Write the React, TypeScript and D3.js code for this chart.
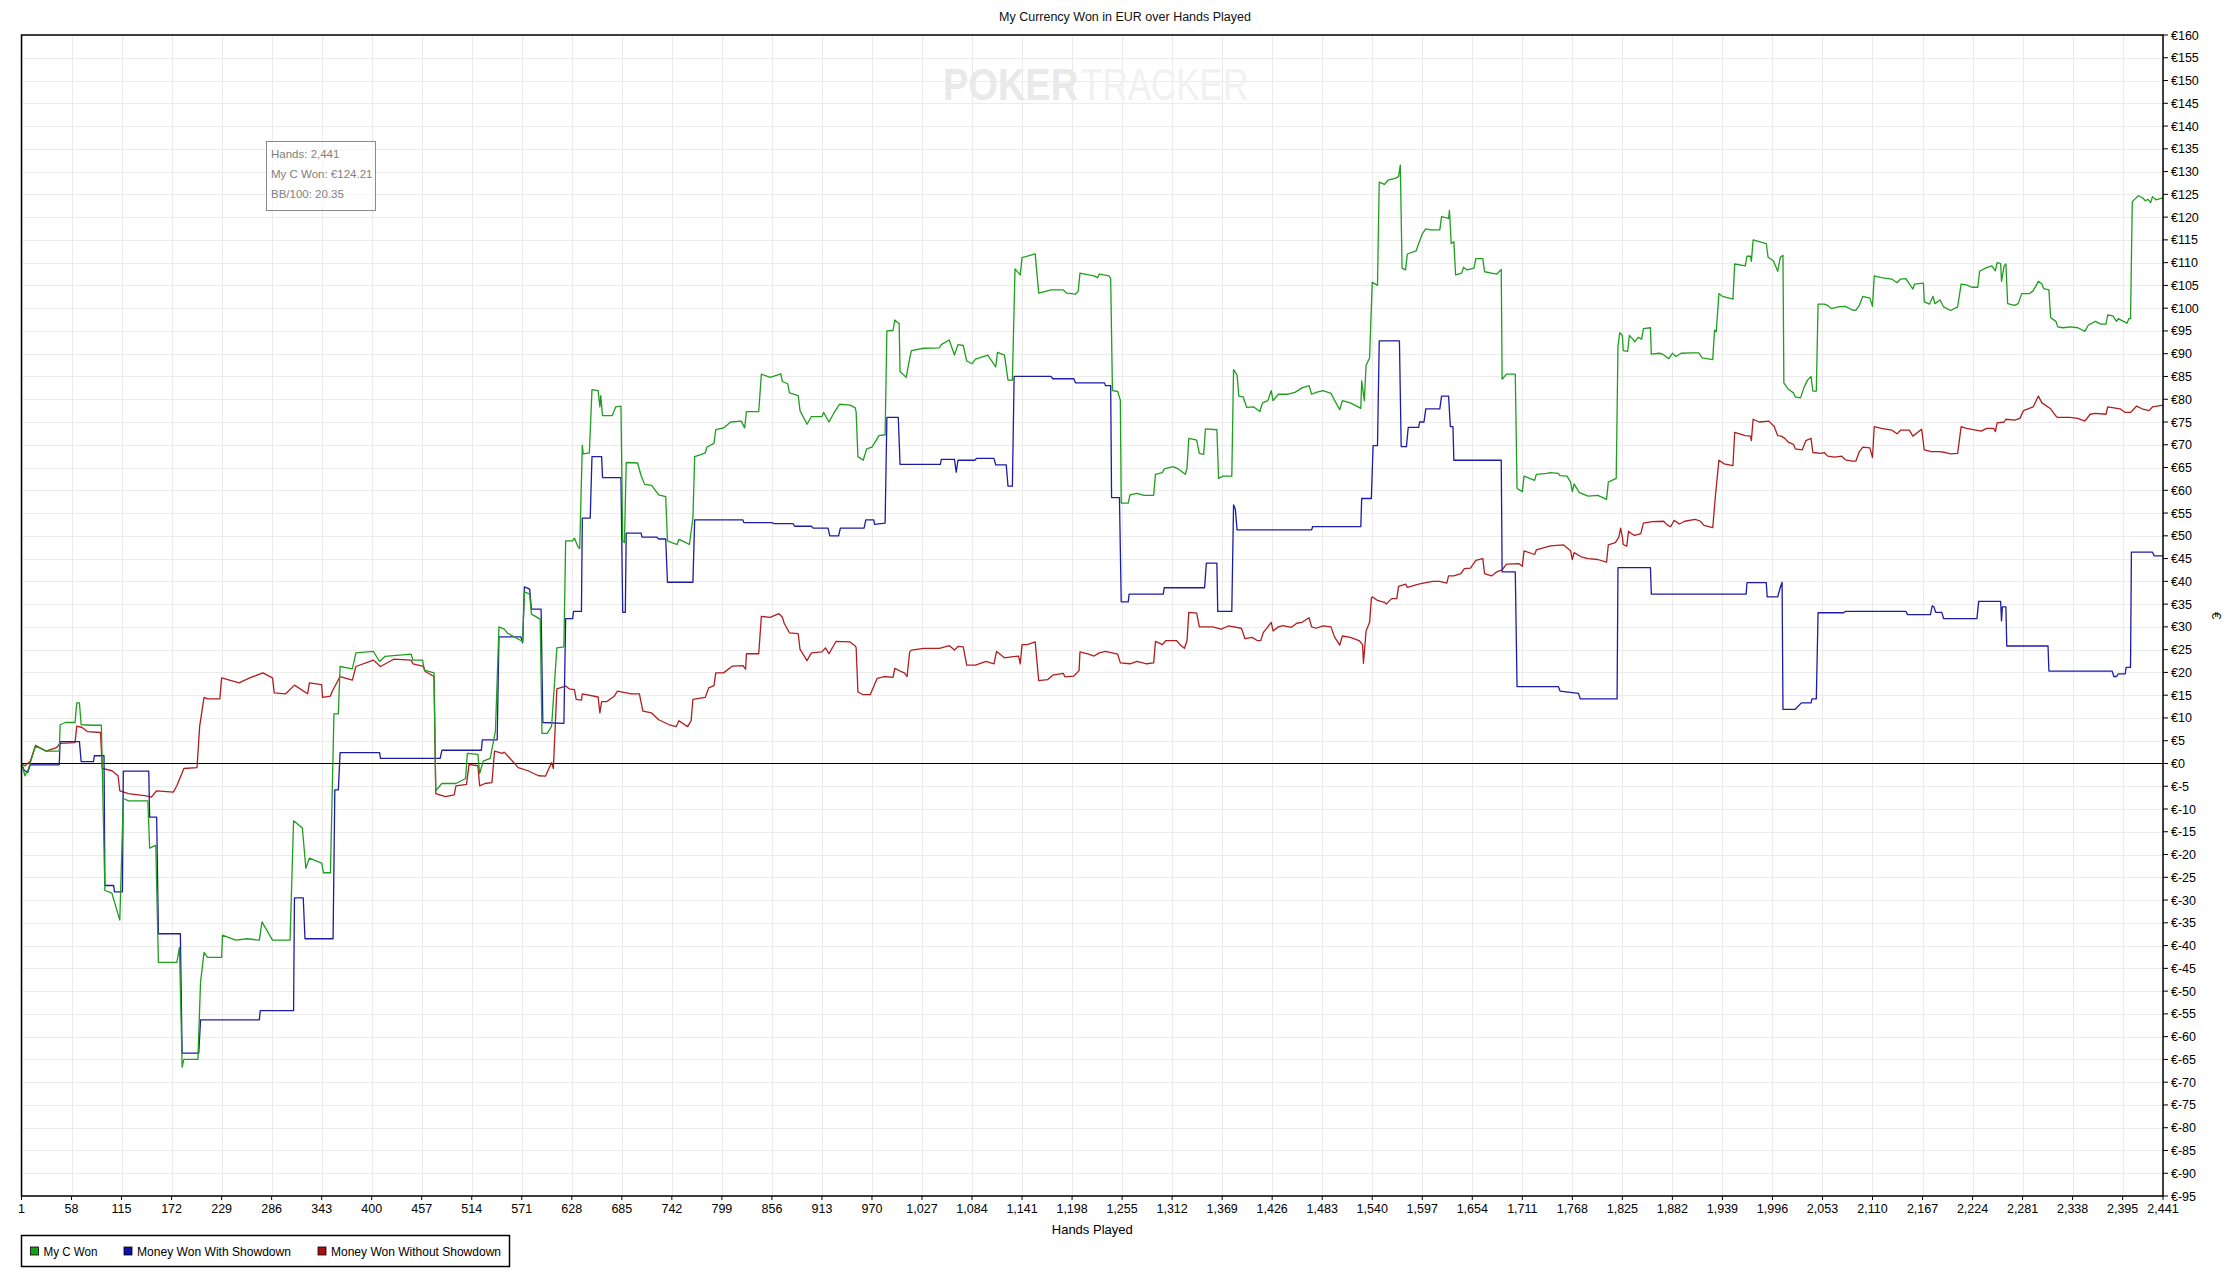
import React from 'react';
import * as d3 from 'd3';

// hand number / running total in EUR
const myCWon: [number, number][] = [
  [1,0],[5,-2.7],[9,-1.1],[17,3.8],[29,2.7],[44,2.7],[45,8.5],[51,9],[62,9],[64,13.3],[67,13.3],[69,8.5],[83,8.4],[92,8.4],
  [96,-27.9],[104,-28.5],[113,-34.4],[117,-7.7],[123,-8.2],[145,-8.2],[147,-18.6],[154,-18],[157,-43.7],[178,-43.7],[181,-40.4],
  [184,-66.7],[186,-65],[202,-65],[205,-48],[209,-41.5],[213,-42.6],[229,-42.6],[230,-37.7],[245,-38.8],[258,-38.5],[272,-38.8],
  [275,-34.8],[287,-38.8],[307,-38.8],[311,-12.6],[321,-14.2],[325,-23],[329,-20.8],[343,-21.9],[345,-24],[353,-24],[357,10.9],
  [362,10.9],[364,21.3],[378,20.8],[382,24.3],[402,24.6],[409,22.4],[415,23.5],[445,24],[447,22.7],[458,22.7],[460,20.5],
  [471,19.9],[473,-6],[480,-4.4],[496,-4.4],[507,-3.3],[509,2.2],[521,2],[523,-2.2],[527,0.5],[535,1.1],[541,7.1],[545,30],
  [551,29.5],[555,28.6],[572,26.8],[574,37.7],[580,37.2],[582,32.8],[592,31.7],[594,6.6],[600,6.6],[605,8.2],[611,25.4],
  [619,25.6],[621,48.9],[629,48.9],[631,49.5],[635,47.6],[637,47.2],[640,69.9],[641,68],[648,68.2],[651,82.1],[658,81.9],
  [660,78.3],[661,80.8],[663,76.4],[674,76.4],[678,78.3],[684,78.5],[686,48.9],[688,48.5],[690,66.1],[703,66],[707,63.2],
  [711,61.3],[719,61.1],[727,59],[735,58.6],[737,48.9],[745,48.3],[748,48.1],[750,49.2],[758,48.5],[762,48.1],[766,53.9],
  [768,67.4],[774,67.8],[780,68.2],[782,69.5],[790,70.3],[792,73.3],[801,73.7],[809,75],[821,75.2],[825,73.7],[827,77.3],
  [841,77.3],[844,85.5],[854,84.8],[862,85.3],[866,85.6],[868,83.9],[874,83.4],[876,81.4],[886,80.8],[888,77.5],[896,74.5],
  [901,76.2],[913,76.2],[915,77.1],[921,75],[927,77.1],[933,78.9],[945,78.7],[951,78.1],[952,77.1],[954,67.4],[960,66.6],
  [964,69.1],[970,69.5],[978,72],[985,72.2],[987,95],[994,95.1],[996,97.4],[1001,96.6],[1002,86.1],[1009,84.8],[1013,89],
  [1015,90.7],[1029,91.2],[1047,91.3],[1049,92],[1058,93],[1064,89.7],[1068,92],[1074,91.8],[1078,88.4],[1084,87.8],
  [1088,88.8],[1102,89.7],[1111,87.1],[1113,90.3],[1121,89.7],[1125,84.2],[1130,84.2],[1133,108.6],[1139,107.3],[1141,111.1],
  [1156,111.9],[1160,103.3],[1174,104],[1188,104],[1192,103.3],[1202,103.1],[1205,103.7],[1207,107.7],[1217,107.3],
  [1223,107.1],[1227,106.7],[1229,107.5],[1234,107.3],[1240,107.1],[1242,106.5],[1244,81.9],[1250,81.7],[1253,79.8],
  [1254,57.2],[1262,57.2],[1264,59],[1272,59.3],[1280,58.9],[1291,58.9],[1293,63.5],[1301,63.9],[1303,64.7],[1313,65.2],
  [1319,64.7],[1327,63.5],[1329,64.9],[1331,71.4],[1340,71],[1343,68.1],[1348,67.9],[1350,73.5],[1363,73.3],[1365,62.6],
  [1370,63.1],[1380,63.1],[1382,86.5],[1386,85.3],[1388,80.7],[1393,80.5],[1397,78.2],[1405,78.3],[1412,77.3],[1415,79.2],
  [1421,79.7],[1425,81.9],[1427,79.7],[1433,81.1],[1444,81.1],[1452,81.5],[1460,82.5],[1468,83],[1471,81.1],[1476,81.5],
  [1484,81.9],[1493,81.3],[1497,79.8],[1503,77.7],[1506,79.7],[1515,79.2],[1525,78.2],[1527,78],[1528,84],[1531,79.7],
  [1533,87.4],[1537,89.1],[1540,105.7],[1546,105],[1548,127.7],[1554,127.2],[1558,128.1],[1566,128.5],[1570,128.9],
  [1572,131.4],[1574,108.8],[1578,108.4],[1580,111.9],[1590,112.6],[1593,114.2],[1597,116.3],[1601,117.4],[1607,117.2],
  [1617,117.2],[1619,120.1],[1627,119.7],[1628,121.5],[1630,114.2],[1633,114.6],[1635,107.3],[1642,107.7],[1644,109],
  [1648,108.4],[1656,108.8],[1658,110.9],[1666,110.9],[1668,108],[1676,107.7],[1682,107.5],[1687,108.5],[1688,84.4],
  [1693,85.5],[1703,85.5],[1705,60.4],[1711,59.7],[1713,63.1],[1725,62.2],[1727,63.5],[1739,63.7],[1743,63.9],[1752,63.7],
  [1754,63.2],[1762,63.1],[1766,61.8],[1768,59.7],[1770,61.4],[1776,59.5],[1786,58.7],[1797,58.9],[1807,58],[1809,61.8],
  [1818,62.6],[1820,91.6],[1822,94.6],[1825,94],[1826,90.7],[1831,90.5],[1833,94],[1837,93.2],[1839,92.6],[1843,93.6],
  [1847,93.2],[1849,95.5],[1857,95.7],[1858,89.9],[1867,90.1],[1871,89.9],[1878,88.9],[1882,90.1],[1886,89.4],[1892,90.1],
  [1904,90.2],[1912,90.2],[1916,89.1],[1928,88.7],[1930,95.2],[1932,94.8],[1935,103.2],[1939,102.6],[1951,102],[1953,109.7],
  [1965,109.3],[1967,111.4],[1971,111.4],[1972,110.3],[1974,115],[1989,114.2],[1991,111.2],[1997,110.4],[2002,108.1],
  [2005,111.2],[2008,111.6],[2009,83.6],[2014,82.2],[2020,81.4],[2022,80.5],[2028,80.3],[2032,82.6],[2036,84.2],[2040,85],
  [2042,81.8],[2046,81.8],[2048,100.9],[2055,100.9],[2059,100.6],[2063,99.9],[2071,100.3],[2079,100.4],[2087,99.6],
  [2091,99.5],[2095,100.6],[2099,102.6],[2107,102.2],[2110,100.4],[2112,107.1],[2120,106.7],[2132,106.4],[2138,105.6],
  [2142,106.4],[2148,106.5],[2156,104.2],[2158,105.3],[2168,105.5],[2169,101.4],[2175,100.9],[2179,102.6],[2181,101],
  [2187,101.8],[2191,100.3],[2199,99.5],[2207,100.3],[2211,105.3],[2217,105.1],[2223,104.6],[2230,104.6],[2232,108.1],
  [2240,108.9],[2246,109.3],[2250,108.2],[2252,110],[2256,109.8],[2257,105.9],[2260,109.3],[2262,109.7],[2264,101],
  [2272,100.6],[2276,101],[2280,103.2],[2289,103.2],[2293,103.8],[2299,105.9],[2303,105.3],[2305,104.3],[2311,104],
  [2313,97.9],[2319,97.1],[2321,95.9],[2327,95.7],[2335,95.9],[2344,95.7],[2352,94.9],[2356,96.3],[2364,97.1],[2370,96.5],
  [2376,96.5],[2378,98.5],[2384,98.3],[2388,97.1],[2390,97.7],[2396,97.1],[2400,96.7],[2402,97.7],[2404,97.7],[2406,123.4],
  [2413,124.7],[2418,124.2],[2421,123.6],[2424,123.9],[2427,123.2],[2429,124.5],[2433,123.8],[2437,124],[2441,124.21],
];

const withShowdown: [number, number][] = [
  [1,0],[4,-1.5],[8,-2],[11,-0.3],[44,-0.3],[45,4.8],[67,4.8],[69,0.4],[83,0.4],[84,1.7],[95,1.7],[96,-26.8],[106,-26.8],
  [107,-28.2],[116,-28.2],[117,-1.7],[146,-1.7],[147,-11.8],[155,-11.8],[157,-37.4],[182,-37.4],[184,-63.6],[203,-63.6],
  [205,-56.3],[272,-56.3],[273,-54.3],[311,-54.3],[312,-29.5],[322,-29.5],[324,-38.5],[356,-38.5],[358,-5.8],[362,-5.8],
  [364,2.4],[409,2.4],[410,1.1],[478,1.1],[480,2.9],[525,2.9],[526,5.2],[543,5.2],[545,27.8],[570,27.8],[572,26.5],[574,38.8],
  [580,38.3],[582,33.9],[593,33.9],[595,9],[619,8.8],[621,31.8],[629,31.8],[630,33.4],[639,33.4],[640,53.9],[649,53.9],
  [651,67.4],[662,67.4],[663,62.8],[684,62.8],[686,33.2],[689,33.2],[690,50.6],[707,50.6],[708,49.7],[725,49.7],[727,49.3],
  [735,49.3],[737,39.8],[766,39.8],[768,53.5],[823,53.5],[824,52.9],[856,52.9],[858,52.7],[880,52.7],[882,52.1],[901,52.1],
  [903,51.7],[920,51.7],[922,50],[932,50],[934,51.7],[961,51.7],[963,53.5],[972,53.5],[973,52.5],[985,52.8],[987,76],
  [1000,76],[1002,65.7],[1048,65.7],[1049,66.8],[1064,66.8],[1066,64],[1068,66.6],[1087,66.6],[1089,67],[1109,67],
  [1111,65.6],[1123,65.6],[1125,60.9],[1130,60.9],[1132,85],[1174,85],[1176,84.5],[1200,84.5],[1202,83.6],[1235,83.6],
  [1236,83],[1242,83],[1243,58.4],[1252,58.4],[1254,35.5],[1262,35.5],[1263,37.2],[1302,37.2],[1303,38.6],[1349,38.6],
  [1351,44],[1363,44],[1364,33.4],[1380,33.4],[1382,56.8],[1384,55.9],[1386,51.3],[1471,51.3],[1472,52],[1527,52],
  [1528,58.2],[1539,58.2],[1541,69.8],[1546,69.8],[1548,92.8],[1571,92.8],[1573,69.6],[1579,69.6],[1581,73.8],[1593,73.8],
  [1594,75],[1599,75],[1601,77.9],[1617,77.9],[1619,80.7],[1627,80.7],[1629,74],[1632,74],[1633,66.6],[1687,66.6],
  [1688,42.1],[1703,42.1],[1705,16.9],[1752,16.9],[1754,15.9],[1775,15.4],[1777,14.2],[1819,14.2],[1820,43],[1857,43],
  [1858,37.2],[1966,37.2],[1967,39.7],[1989,39.7],[1990,36.6],[2002,36.6],[2005,38.7],[2007,39.8],[2008,11.9],[2022,11.9],
  [2029,13.3],[2040,13.3],[2041,14.2],[2046,14.2],[2048,33.1],[2077,33.1],[2079,33.4],[2148,33.4],[2150,32.7],[2176,32.7],
  [2178,34.6],[2180,34.4],[2182,33.2],[2189,33.2],[2191,31.8],[2229,31.8],[2231,35.6],[2256,35.6],[2257,31.3],[2258,34.4],
  [2262,34.4],[2263,25.8],[2310,25.8],[2311,20.3],[2383,20.3],[2385,19.1],[2388,19.1],[2390,19.7],[2398,19.7],[2399,21.1],
  [2404,21.1],[2405,46.4],[2429,46.4],[2431,45.6],[2441,45.6],
];

const withoutShowdown: [number, number][] = [
  [1,0],[5,-0.5],[11,0.5],[17,4],[29,2.7],[41,3.5],[45,4.4],[62,4.6],[64,8.2],[70,7.9],[76,7],[91,6.8],[93,-1.1],[104,-1.6],
  [111,-2.7],[113,-6],[123,-6.6],[143,-7.1],[149,-7.4],[155,-6],[174,-6.3],[178,-4.9],[186,-1.1],[201,-0.9],[204,8.2],
  [209,14.5],[213,14.2],[227,14.2],[229,18.8],[249,17.7],[261,18.8],[276,19.9],[287,18.8],[289,15.5],[302,15.3],[312,17.2],
  [327,15.3],[329,17.7],[343,17.3],[344,14.5],[353,14.8],[355,15.8],[364,19.1],[378,18.3],[382,21.3],[402,22.7],[410,21.3],
  [425,22.9],[445,22.7],[447,21.9],[459,21.3],[461,20.2],[471,19.1],[473,-6.6],[484,-7.3],[494,-6.9],[496,-4.9],[508,-4.6],
  [511,-0.2],[521,-0.5],[523,-4.9],[529,-4.4],[537,-4.2],[540,2.7],[549,2.2],[551,2.5],[567,-0.9],[578,-1.6],[590,-2.7],
  [598,-2.8],[605,0.2],[607,-1.1],[611,16.4],[621,17],[625,16.4],[631,16.2],[633,14.1],[639,13.9],[640,15.3],[658,14.6],
  [660,11.1],[662,13.6],[668,13.6],[676,14.7],[680,15.9],[696,15.3],[705,15.3],[709,11.5],[719,11.1],[727,9.6],[739,8.5],
  [747,8.1],[750,9.4],[760,8.1],[764,9.4],[766,14.1],[780,14.5],[784,16.6],[790,17.1],[792,19.9],[801,19.9],[811,21.4],
  [823,21.5],[826,20.7],[827,24.1],[841,24.1],[844,32.3],[854,32.1],[864,32.9],[868,32.1],[870,30.8],[876,28.7],[886,28.5],
  [888,25.1],[896,22.6],[901,24.3],[913,24.5],[917,25.4],[921,24.1],[929,26.8],[945,26.7],[951,25.8],[952,25.4],[954,15.7],
  [960,15.1],[968,15.1],[976,18.7],[984,19.1],[994,18.9],[996,20.9],[1002,20.3],[1007,19.9],[1010,19.1],[1013,24.5],
  [1015,24.9],[1029,25.3],[1047,25.3],[1058,25.9],[1064,24.9],[1068,25.7],[1074,25.6],[1078,21.6],[1088,21.6],[1100,22.4],
  [1109,21.9],[1112,24.6],[1121,23.2],[1129,23.4],[1137,23.6],[1139,21.9],[1141,26.1],[1147,26.1],[1156,26.7],[1160,18.2],
  [1170,18.4],[1176,19.4],[1188,19.8],[1190,19],[1200,19.2],[1206,20.4],[1207,24.5],[1217,24],[1223,23.6],[1229,24.3],
  [1236,24.6],[1250,24],[1253,22.1],[1264,21.9],[1272,22.4],[1283,21.9],[1291,22.1],[1293,26.8],[1301,26.1],[1305,27],
  [1317,27],[1321,26.1],[1326,25.3],[1329,27],[1331,33.2],[1340,33],[1343,30],[1358,30],[1368,29.5],[1376,30.2],[1391,29.7],
  [1395,27.4],[1403,27.7],[1409,27],[1413,27],[1416,28.8],[1419,29.5],[1425,31],[1427,29.1],[1433,30],[1438,30.3],
  [1448,29.9],[1454,30.8],[1460,31],[1468,32],[1471,30],[1476,29.7],[1484,30.2],[1493,30],[1497,27.8],[1503,26],[1506,28],
  [1515,27.7],[1525,27],[1529,26.1],[1530,22],[1533,29.1],[1537,31],[1539,36.2],[1540,36.6],[1546,35.8],[1554,35.4],
  [1556,35],[1562,36.2],[1568,36.2],[1570,38.9],[1578,39.4],[1580,38.7],[1593,39.4],[1601,39.7],[1609,40],[1617,40],
  [1625,39.6],[1627,41.2],[1633,41.2],[1641,41.7],[1645,42.8],[1652,42.9],[1658,44.6],[1666,45],[1668,41.7],[1676,41.2],
  [1682,42.1],[1688,42.5],[1693,43.8],[1707,43.9],[1711,43.3],[1713,46.7],[1725,45.9],[1727,46.9],[1743,47.8],[1758,48],
  [1766,46.7],[1768,44.8],[1770,46.3],[1778,45.4],[1786,45],[1797,44.8],[1807,44.2],[1809,48],[1817,48.5],[1821,49.7],
  [1823,51.7],[1825,49.7],[1826,48.1],[1830,47.7],[1832,51],[1835,50.5],[1839,50.1],[1846,50.5],[1849,52.8],[1859,53.1],
  [1872,53.2],[1876,52.4],[1880,52],[1884,53.4],[1890,52.6],[1896,53.2],[1908,53.6],[1914,53.2],[1918,52.3],[1928,51.8],
  [1931,58.7],[1935,66.6],[1941,65.8],[1951,65.4],[1953,72.7],[1965,72],[1971,71.9],[1972,70.9],[1974,75.6],[1981,75],
  [1992,75.2],[1998,74],[2002,72],[2006,71.9],[2010,71.4],[2014,70.6],[2020,70.1],[2022,69.1],[2030,68.9],[2034,70.9],
  [2040,71.4],[2042,68.3],[2051,68.1],[2055,68.3],[2059,67.5],[2067,67.3],[2075,67.5],[2079,66.7],[2087,66.4],[2091,66.4],
  [2095,68.5],[2099,69.5],[2107,69.3],[2110,67.2],[2112,74],[2120,73.6],[2132,73.2],[2138,72.4],[2142,73.2],[2152,73.2],
  [2156,71.9],[2166,73.4],[2169,68.9],[2177,68.5],[2187,68.5],[2193,68.3],[2199,68],[2207,68.1],[2211,74],[2217,73.6],
  [2234,73],[2240,73.6],[2248,73.6],[2250,72.9],[2252,74.8],[2260,75],[2262,75.6],[2272,75.4],[2278,75.8],[2282,77.5],
  [2293,78.3],[2299,80.7],[2303,79.2],[2313,77.9],[2319,76.3],[2321,76],[2335,76],[2344,75.8],[2352,75.2],[2358,76.7],
  [2364,76.9],[2376,76.7],[2378,78.3],[2392,77.9],[2398,77.1],[2404,77.1],[2411,78.5],[2417,77.9],[2425,77.5],[2429,78.3],
  [2441,78.7],
];

const xTickHands = [
  1, 58, 115, 172, 229, 286, 343, 400, 457, 514, 571, 628, 685, 742, 799, 856, 913, 970, 1027, 1084, 1141, 1198, 1255,
  1312, 1369, 1426, 1483, 1540, 1597, 1654, 1711, 1768, 1825, 1882, 1939, 1996, 2053, 2110, 2167, 2224, 2281, 2338,
  2395, 2441,
];

const seriesNames = ['My C Won', 'Money Won With Showdown', 'Money Won Without Showdown'];
const tooltipLines = ['Hands: 2,441', 'My C Won: €124.21', 'BB/100: 20.35'];

const W = 2234, H = 1284;
const margin = { top: 35, right: 71, bottom: 88, left: 21.5 };
const FONT = "'Liberation Sans', Arial, sans-serif";

export default function App() {
  const x = d3.scaleLinear().domain([1, 2441]).range([margin.left, W - margin.right]);
  const y = d3.scaleLinear().domain([-95, 160]).range([H - margin.bottom, margin.top]);
  const yTicks = d3.range(-95, 161, 5);

  const line = d3.line<[number, number]>().x(d => x(d[0])).y(d => y(d[1]));

  const series = [
    { name: seriesNames[0], data: myCWon, color: '#1f9e1f', swatch: '#18a018' },
    { name: seriesNames[1], data: withShowdown, color: '#1c1ca6', swatch: '#1010a8' },
    { name: seriesNames[2], data: withoutShowdown, color: '#b01e1e', swatch: '#a81010' },
  ];

  const [x0, x1] = x.range();
  const [yb, yt] = y.range();
  const fmt = d3.format(',');
  const legendX = [30.5, 124, 318];
  const legendLen = [54, 154, 170];

  return (
    <div style={{ position: 'absolute', left: 0, top: 0 }}>
      <svg width={W} height={H} style={{ display: 'block', background: '#fff' }} fontFamily={FONT}>
        {/* title */}
        <text x={1125} y={21} textAnchor="middle" fontSize={12.5} fill="#111">
          My Currency Won in EUR over Hands Played
        </text>

        {/* grid */}
        <g stroke="#ebebeb" strokeWidth={1}>
          {yTicks.map(t => (
            <line key={'gy' + t} x1={x0} x2={x1} y1={Math.round(y(t)) + 0.5} y2={Math.round(y(t)) + 0.5} />
          ))}
          {xTickHands.map(t => (
            <line key={'gx' + t} x1={Math.round(x(t)) + 0.5} x2={Math.round(x(t)) + 0.5} y1={yt} y2={yb} />
          ))}
        </g>

        {/* watermark */}
        <text transform="translate(943,100) scale(1,1.18)" fontSize={38} fill="#e9e9e9" fontWeight="bold">POKER</text>
        <text transform="translate(1081,100) scale(1,1.27)" fontSize={35} fill="#f1f1f1">TRACKER</text>

        {/* zero line */}
        <line x1={x0} x2={x1} y1={Math.round(y(0)) + 0.5} y2={Math.round(y(0)) + 0.5} stroke="#000" strokeWidth={1.2} />

        {/* series: red, blue, then green on top */}
        {[2, 1, 0].map(i => (
          <path key={series[i].name} d={line(series[i].data) || ''} fill="none"
            stroke={series[i].color} strokeWidth={1.3} strokeLinejoin="round" />
        ))}

        {/* frame */}
        <rect x={x0} y={yt} width={x1 - x0} height={yb - yt} fill="none" stroke="#000" strokeWidth={1.5} />

        {/* right y axis */}
        <g fontSize={12.5} fill="#000">
          {yTicks.map(t => (
            <g key={'yt' + t} transform={`translate(${x1},${y(t)})`}>
              <line x1={0} x2={5} stroke="#000" strokeWidth={1} />
              <text x={8} dy="0.36em">{'€' + t}</text>
            </g>
          ))}
        </g>
        <text transform={`translate(2212,${(yt + yb) / 2}) rotate(90)`} textAnchor="middle" fontSize={13}>€</text>

        {/* bottom x axis */}
        <g fontSize={12.5} fill="#000">
          {xTickHands.map(t => (
            <g key={'xt' + t} transform={`translate(${x(t)},${yb})`}>
              <line y1={0} y2={4} stroke="#000" strokeWidth={1} />
              <text y={17} textAnchor="middle">{fmt(t)}</text>
            </g>
          ))}
        </g>
        <text x={(x0 + x1) / 2} y={1234} textAnchor="middle" fontSize={13}>Hands Played</text>

        {/* tooltip */}
        <rect x={266.5} y={141.5} width={109} height={69} fill="#fff" fillOpacity={0.6} stroke="#8a8a8a" strokeWidth={1} />
        <g fontSize={11.5} fill="#808080">
          {tooltipLines.map((s, i) => (
            <text key={s} x={271} y={158 + i * 20}>{s}</text>
          ))}
        </g>

        {/* legend */}
        <rect x={21.5} y={1235.5} width={488} height={31} fill="#fff" stroke="#000" strokeWidth={1.5} />
        {series.map((s, i) => (
          <g key={'lg' + s.name} transform={`translate(${legendX[i]},1247)`}>
            <rect x={0} y={0} width={8} height={8} fill={s.swatch} stroke="#000" strokeWidth={0.8} />
            <text x={13} y={8.5} fontSize={12.5} textLength={legendLen[i]} lengthAdjust="spacingAndGlyphs">{s.name}</text>
          </g>
        ))}
      </svg>
    </div>
  );
}
